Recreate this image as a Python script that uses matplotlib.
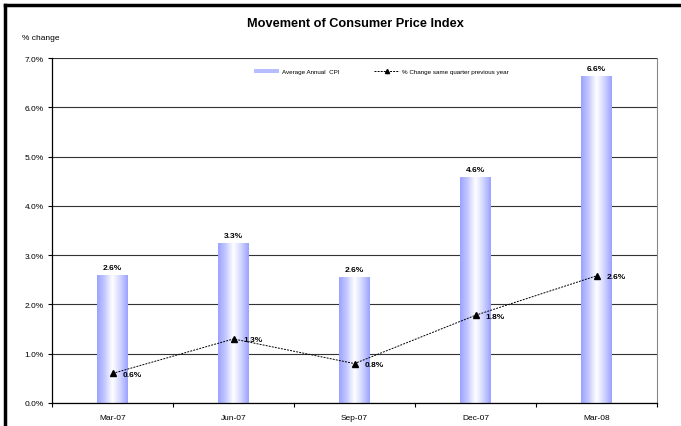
import numpy as np
import matplotlib
matplotlib.use("Agg")
import matplotlib.pyplot as plt
from matplotlib.colors import LinearSegmentedColormap
from matplotlib.lines import Line2D
from matplotlib.patches import Rectangle

quarters = ["Mar-07", "Jun-07", "Sep-07", "Dec-07", "Mar-08"]
avg_cpi = [2.6, 3.25, 2.55, 4.58, 6.63]
avg_labels = ["2.6%", "3.3%", "2.6%", "4.6%", "6.6%"]
qoq_change = [0.6, 1.3, 0.8, 1.78, 2.58]
qoq_labels = ["0.6%", "1.3%", "0.8%", "1.8%", "2.6%"]
yticks = [0, 1, 2, 3, 4, 5, 6, 7]

plt.rcParams["font.family"] = ["Liberation Sans", "DejaVu Sans"]

fig = plt.figure(figsize=(6.81, 4.27), dpi=100)
ax = fig.add_axes([52 / 681, 1 - 404 / 427, (657 - 52) / 681, (404 - 59) / 427])

x = np.arange(len(quarters))
width = 0.25
edge = "#9ca3ff"
cmap = LinearSegmentedColormap.from_list("barfill", [edge, "#c6caff", "#ffffff", "#d3d6ff", edge])
grad = np.linspace(0, 1, 64).reshape(1, -1)

bars = ax.bar(x, avg_cpi, width=width, color="none", edgecolor="none", zorder=2)
for b in bars:
    x0, y0 = b.get_x(), b.get_y()
    w, h = b.get_width(), b.get_height()
    im = ax.imshow(grad, cmap=cmap, aspect="auto", extent=(x0, x0 + w, y0, y0 + h),
                   interpolation="bilinear", zorder=2)
    im.set_clip_path(b)

for xi, v, lab in zip(x, avg_cpi, avg_labels):
    ax.text(xi, v + 0.08, lab, ha="center", va="bottom", fontsize=6, fontweight="bold")

ax.plot(x, qoq_change, color="black", linestyle=(0, (2, 1.2)), linewidth=0.7,
        marker="^", markersize=4.5, zorder=3)
for xi, v, lab in zip(x, qoq_change, qoq_labels):
    ax.text(xi + 0.08, v - 0.02, lab, ha="left", va="center", fontsize=6, fontweight="bold", zorder=4)

ax.set_xlim(-0.5, len(quarters) - 0.5)
ax.set_ylim(0, 7)
ax.set_yticks(yticks)
ax.set_yticklabels([f"{t:.1f}%" for t in yticks])
ax.set_xticks(x)
ax.set_xticklabels(quarters)
ax.set_xticks(np.arange(-0.5, len(quarters)), minor=True)
ax.tick_params(axis="x", which="major", length=0, labelsize=6, pad=8)
ax.tick_params(axis="x", which="minor", length=3, direction="out", width=0.8)
ax.tick_params(axis="y", length=3, direction="out", labelsize=6, pad=3, width=0.8)
ax.yaxis.grid(True, color="#333333", linewidth=0.8)
ax.set_axisbelow(True)
ax.spines["top"].set_visible(False)
ax.spines["right"].set_color("#888888")
ax.spines["left"].set_linewidth(0.9)
ax.spines["bottom"].set_linewidth(0.9)

fig.text(355 / 681, 1 - 24 / 427, "Movement of Consumer Price Index", ha="center", va="center",
         fontsize=9.2, fontweight="bold")
fig.text(22 / 681, 1 - 38 / 427, "% change", ha="left", va="center", fontsize=6)

handles = [Rectangle((0, 0), 1, 1, facecolor="#b8bdff", edgecolor="none"),
           Line2D([], [], color="black", linestyle=(0, (2, 1.2)), linewidth=0.7, marker="^", markersize=3)]
ax.legend(handles, ["Average Annual  CPI", "% Change same quarter previous year"],
          loc="upper center", bbox_to_anchor=(0.545, 0.985), ncol=2, frameon=False,
          fontsize=4.5, handlelength=4, handleheight=0.6, columnspacing=5.5, handletextpad=0.5)

# outer frame (top and left edges)
fig.add_artist(Line2D([5 / 681, 1], [1 - 6 / 427, 1 - 6 / 427], color="black", linewidth=2.5,
                      transform=fig.transFigure))
fig.add_artist(Line2D([5 / 681, 5 / 681], [0, 1 - 6 / 427], color="black", linewidth=2.5,
                      transform=fig.transFigure))

fig.savefig("out.png", dpi=100)
